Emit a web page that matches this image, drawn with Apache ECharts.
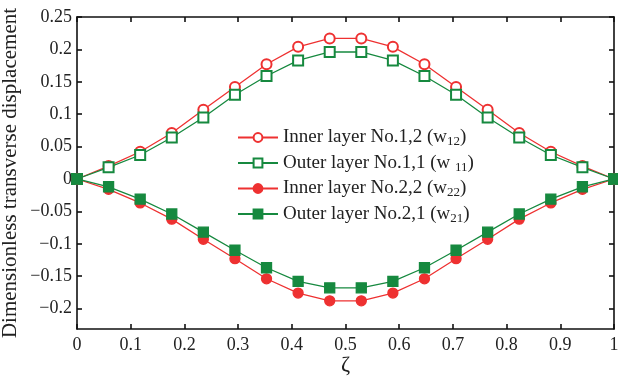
<!DOCTYPE html>
<html><head><meta charset="utf-8">
<script src="https://cdn.jsdelivr.net/npm/echarts@6/dist/echarts.min.js"></script>
<style>html,body{margin:0;padding:0;background:#fff}#c{width:618px;height:381px}</style>
</head><body><div id="c"></div>
<script>
const zeta = [0,1/17,2/17,3/17,4/17,5/17,6/17,7/17,8/17,9/17,10/17,11/17,12/17,13/17,14/17,15/17,16/17,1];
const inner12 = [0,0.020,0.042,0.071,0.107,0.142,0.177,0.204,0.217,0.217,0.204,0.177,0.142,0.107,0.071,0.042,0.020,0];
const outer11 = [0,0.018,0.037,0.064,0.095,0.130,0.159,0.183,0.196,0.196,0.183,0.159,0.130,0.095,0.064,0.037,0.018,0];
const inner22 = [0,-0.016,-0.037,-0.062,-0.093,-0.123,-0.154,-0.176,-0.188,-0.188,-0.176,-0.154,-0.123,-0.093,-0.062,-0.037,-0.016,0];
const outer21 = [0,-0.012,-0.031,-0.054,-0.082,-0.110,-0.137,-0.158,-0.168,-0.168,-0.158,-0.137,-0.110,-0.082,-0.054,-0.031,-0.012,0];
const yTicks = [0.25,0.2,0.15,0.1,0.05,0,-0.05,-0.1,-0.15,-0.2];
const xTicks = [0,0.1,0.2,0.3,0.4,0.5,0.6,0.7,0.8,0.9,1];
const names = ['Inner layer No.1,2','Outer layer No.1,1','Inner layer No.2,2','Outer layer No.2,1'];
const subs = ['{a|(w}{s|12}{a|)}','{a|(w }{s|11}{a|)}','{a|(w}{s|22}{a|)}','{a|(w}{s|21}{a|)}'];

const RED = '#ee3131', GREEN = '#16893f';
const FONT = '"Liberation Serif", "DejaVu Serif", serif';
const fmtY = v => { const r = Math.round(v*100)/100; return r < 0 ? '\u2212' + String(-r) : String(r); };
const ax = {color:'#111', width:1.6};
const chart = echarts.init(document.getElementById('c'));
function mk(i, data, color, sym) {
  return {
    name: names[i], type:'line', data: zeta.map((z,k)=>[z,data[k]]),
    symbol: sym, symbolSize: 10, showSymbol:true,
    lineStyle:{color, width:1.3}, itemStyle:{color, borderColor:color, borderWidth:1.3},
    emphasis:{disabled:true}, animation:false, z: 3 + i
  };
}
chart.setOption({
  animation:false,
  grid:{left:77, top:17, width:537, height:312, outerBoundsMode:'none', containLabel:false},
  legend:{
    orient:'vertical', left:232, top:123, itemGap:5, itemWidth:40, itemHeight:11,
    data: names,
    formatter: n => n + ' ' + subs[names.indexOf(n)],
    textStyle:{fontFamily:FONT, fontSize:19, color:'#222',
      rich:{a:{fontFamily:FONT, fontSize:19, color:'#222'}, s:{fontFamily:FONT, fontSize:13, color:'#222', verticalAlign:'bottom', padding:[9,0,0,0]}}}
  },
  xAxis:[{
    type:'value', min:0, max:1, interval:0.1,
    name:'\u03b6', nameLocation:'middle', nameGap:25, nameMoveOverlap:false,
    nameTextStyle:{fontFamily:FONT, fontSize:22, color:'#222'},
    axisLine:{onZero:false, lineStyle:ax}, axisTick:{inside:true, length:5, lineStyle:ax},
    axisLabel:{fontFamily:FONT, fontSize:18, color:'#222', margin:7, formatter: v => String(Math.round(v*10)/10)},
    splitLine:{show:false}
  },{
    type:'value', min:0, max:1, interval:0.1, position:'top',
    axisLine:{onZero:false, lineStyle:ax}, axisTick:{inside:true, length:5, lineStyle:ax}, axisLabel:{show:false}, splitLine:{show:false}
  }],
  yAxis:[{
    type:'value', min:-0.2315, max:0.25,
    name:'Dimensionless transverse displacement', nameLocation:'middle', nameGap:56, nameMoveOverlap:false,
    nameTextStyle:{fontFamily:FONT, fontSize:21, color:'#222'},
    axisLine:{onZero:false, lineStyle:ax},
    axisTick:{inside:true, length:5, lineStyle:ax, customValues: yTicks},
    axisLabel:{fontFamily:FONT, fontSize:18, color:'#222', margin:5, customValues: yTicks, formatter: fmtY},
    splitLine:{show:false}
  },{
    type:'value', min:-0.2315, max:0.25, position:'right',
    axisLine:{onZero:false, lineStyle:ax},
    axisTick:{inside:true, length:5, lineStyle:ax, customValues: yTicks},
    axisLabel:{show:false}, splitLine:{show:false}
  }],
  series:[
    mk(0, inner12, RED, 'emptyCircle'),
    mk(1, outer11, GREEN, 'emptyRect'),
    mk(2, inner22, RED, 'circle'),
    mk(3, outer21, GREEN, 'rect')
  ]
});
</script></body></html>
